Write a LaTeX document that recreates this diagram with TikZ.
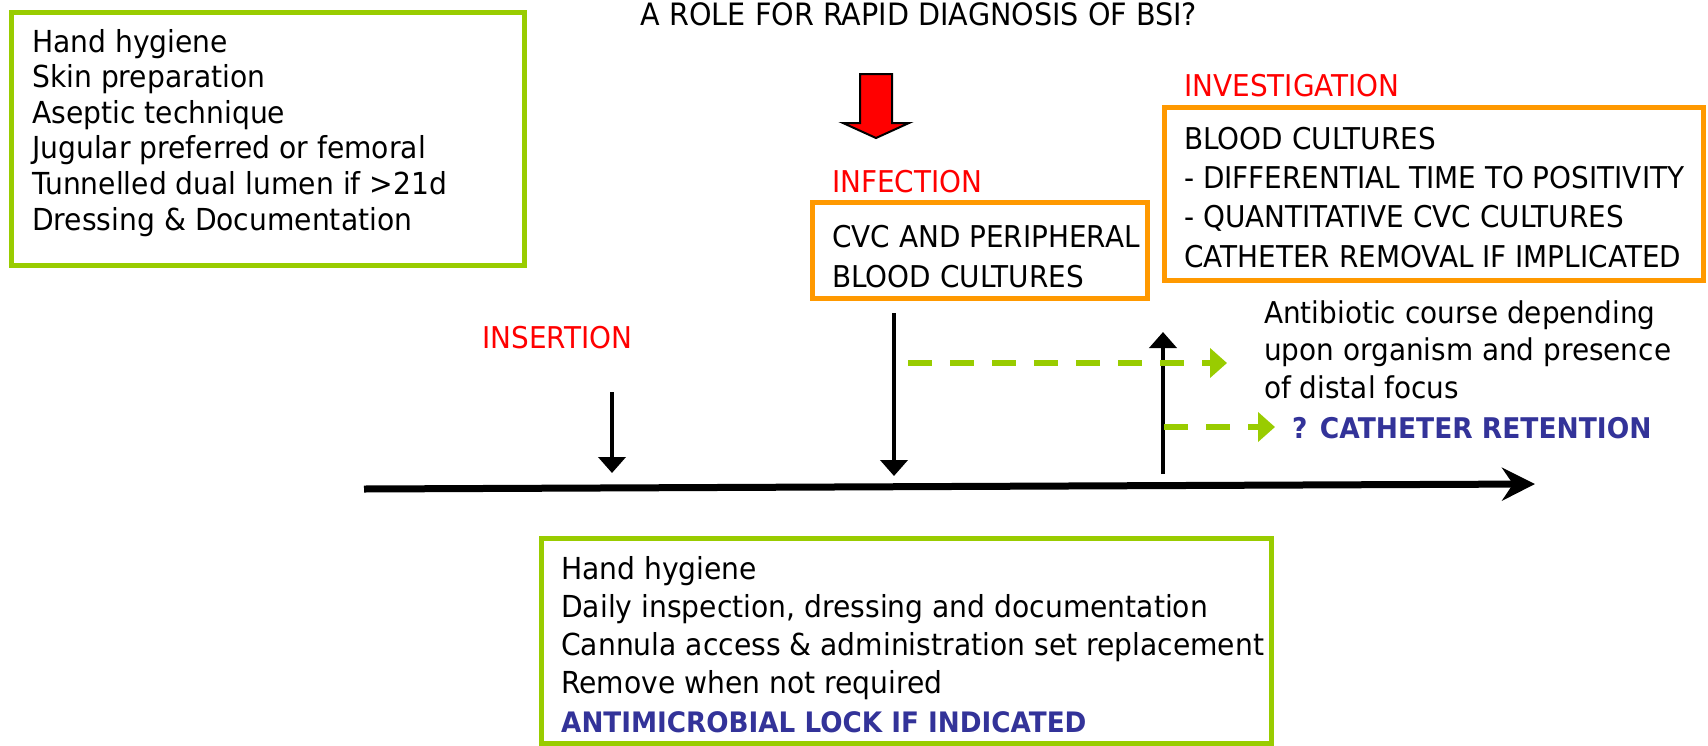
\documentclass[tikz,border=0pt]{standalone}
\usepackage{fontspec}
\setmainfont[FakeStretch=0.93]{DejaVu Sans}
\usetikzlibrary{arrows.meta}

\definecolor{leafgreen}{HTML}{99CC00}
\definecolor{boxorange}{HTML}{FF9900}
\definecolor{lockblue}{HTML}{333399}

\begin{document}
\begin{tikzpicture}[x=1pt, y=-1pt,
  lbl/.style={anchor=base west, inner sep=0pt, font=\fontsize{30}{36}\selectfont},
  redlbl/.style={lbl, text=red},
  body/.style={lbl, align=left},
  bluebold/.style={lbl, text=lockblue, font=\fontsize{28.5}{36}\selectfont\bfseries},
  frame/.style={line width=5pt},
  tick/.style={line width=4.5pt, -{Triangle[length=16pt, width=27pt]}},
  gdash/.style={leafgreen, line width=5.5pt, dash pattern=on 24pt off 18pt, -{Triangle[length=17pt, width=29pt]}},
]
\useasboundingbox (0,0) rectangle (1708,745);

% title
\node[lbl, anchor=base, font=\fontsize{30.8}{36}\selectfont] (title) at (919,25) {A ROLE FOR RAPID DIAGNOSIS OF BSI?};

% before insertion (base = last line)
\draw[frame, leafgreen] (11.5,12.5) rectangle (524.5,265.5);
\node[body, font=\fontsize{30.3}{35.6}\selectfont] (prep) at (32,230) {Hand hygiene\\Skin preparation\\Aseptic technique\\Jugular preferred or femoral\\Tunnelled dual lumen if >21d\\Dressing \& Documentation};

% insertion
\node[redlbl] (insertion) at (482,348) {INSERTION};
\coordinate (ins-a) at (612,392);
\coordinate (ins-b) at (612,473);

% infection
\draw[fill=red, line width=2pt] (860,74) -- (892,74) -- (892,123) -- (909,123) -- (876,138) -- (843,123) -- (860,123) -- cycle;
\node[redlbl] (infection) at (832,192) {INFECTION};
\draw[frame, boxorange] (812.5,202.5) rectangle (1147.5,298.5);
\node[body, font=\fontsize{30}{40}\selectfont] (cultures) at (832,287) {CVC AND PERIPHERAL\\BLOOD CULTURES};
\coordinate (inf-a) at (894,313);
\coordinate (inf-b) at (894,476);

% investigation
\node[redlbl] (investigation) at (1184,96) {INVESTIGATION};
\draw[frame, boxorange] (1164.5,107.5) rectangle (1703.5,280.5);
\node[body, font=\fontsize{30}{39.3}\selectfont] (workup) at (1184,267) {BLOOD CULTURES\\- DIFFERENTIAL TIME TO POSITIVITY\\- QUANTITATIVE CVC CULTURES\\CATHETER REMOVAL IF IMPLICATED};

% treatment
\node[body, font=\fontsize{30}{37.5}\selectfont] (antibiotic) at (1264,398) {Antibiotic course depending\\upon organism and presence\\of distal focus};
\node[bluebold] (retention) at (1292,438) {? CATHETER RETENTION};
\coordinate (rem-a) at (1163,474);
\coordinate (rem-b) at (1163,332);
\coordinate (abx-a) at (908,363);
\coordinate (abx-b) at (1227,363);
\coordinate (ret-a) at (1164,427);
\coordinate (ret-b) at (1275,427);

% maintenance
\draw[frame, leafgreen] (541.5,538.5) rectangle (1271.5,743);
\node[body, font=\fontsize{30.3}{38.2}\selectfont] (care) at (561,732) {Hand hygiene\\Daily inspection, dressing and documentation\\Cannula access \& administration set replacement\\Remove when not required\\\textcolor{lockblue}{\fontsize{28.2}{38.2}\selectfont\bfseries ANTIMICROBIAL LOCK IF INDICATED}};

% timeline
\coordinate (t-start) at (364,489);
\coordinate (t-end) at (1535,484);
\draw[line width=7pt, -{Stealth[length=33pt, width=33pt, inset=11pt]}] (t-start) -- (t-end);

\draw[tick] (ins-a) -- (ins-b);
\draw[tick] (inf-a) -- (inf-b);
\draw[tick] (rem-a) -- (rem-b);
\draw[gdash] (abx-a) -- (abx-b);
\draw[gdash] (ret-a) -- (ret-b);

\end{tikzpicture}
\end{document}
